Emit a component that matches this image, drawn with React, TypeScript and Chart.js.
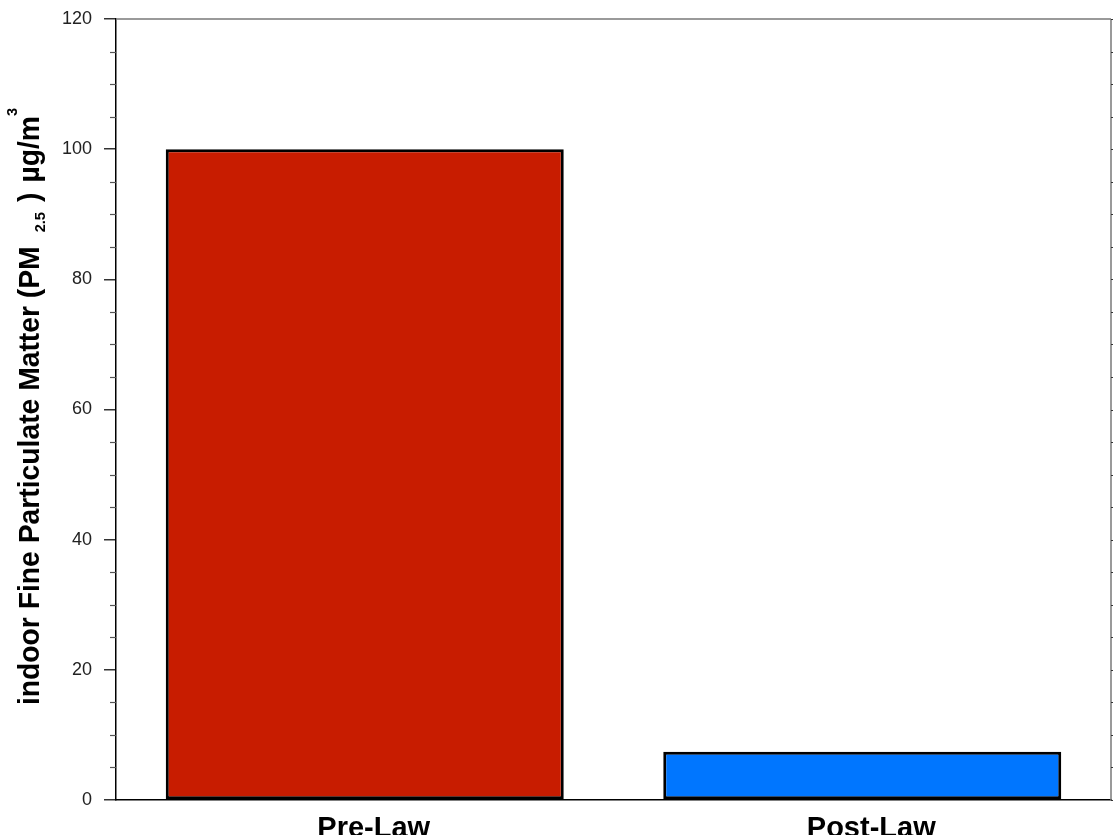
import React, { useEffect, useRef } from "react";
import { Chart, registerables } from "chart.js";

Chart.register(...registerables);

// ---- data ----
const categories: string[] = ["Pre-Law", "Post-Law"];
const pmValues: number[] = [100, 7.4];
const barColors: string[] = ["#C81C00", "#0076FF"];
const yMin = 0;
const yMax = 120;
const yMajorStep = 20;
const yMinorStep = 5;
// y title pieces: main, subscript, main, superscript
const yTitleParts: string[] = ["indoor Fine Particulate Matter (PM", "2.5", ")", "\u00B5g/m", "3"];

const FONT = "'Liberation Sans', Arial, Helvetica, sans-serif";

const decorPlugin = {
  id: "decor",
  afterDraw(chart: any) {
    const ctx = chart.ctx as CanvasRenderingContext2D;
    const { left, right, top, bottom } = chart.chartArea;
    const y = chart.scales.y;
    ctx.save();
    // top and right frame lines
    ctx.strokeStyle = "#7a7a7a";
    ctx.lineWidth = 1.5;
    ctx.beginPath();
    ctx.moveTo(left, top);
    ctx.lineTo(right, top);
    ctx.moveTo(right, top);
    ctx.lineTo(right, bottom);
    ctx.stroke();
    // minor ticks
    for (let v = yMin; v <= yMax; v += yMinorStep) {
      const py = Math.round(y.getPixelForValue(v)) + 0.5;
      if (v % yMajorStep !== 0) {
        ctx.strokeStyle = "#555";
        ctx.lineWidth = 1.2;
        ctx.beginPath();
        ctx.moveTo(left - 6, py);
        ctx.lineTo(left, py);
        ctx.stroke();
      }
      ctx.strokeStyle = "#333";
      ctx.lineWidth = 1.2;
      ctx.beginPath();
      ctx.moveTo(right, py);
      ctx.lineTo(right + 3, py);
      ctx.stroke();
    }
    ctx.restore();

    // y axis title with sub/superscripts
    ctx.save();
    const mainFont = `bold 29px ${FONT}`;
    const smallFont = `bold 15px ${FONT}`;
    const fonts = [mainFont, smallFont, mainFont, mainFont, smallFont];
    const shifts = [0, 6, 0, 0, -22];
    const gapsAfter = [14, 10, 10, 0, 0];
    const squeeze = 0.975;
    let total = 0;
    const widths: number[] = [];
    yTitleParts.forEach((t, i) => {
      ctx.font = fonts[i];
      const w = ctx.measureText(t).width * squeeze;
      widths.push(w);
      total += w + gapsAfter[i];
    });
    const cy = (top + bottom) / 2 - 3;
    const baseX = 39;
    ctx.translate(baseX, cy);
    ctx.rotate(-Math.PI / 2);
    ctx.fillStyle = "#000";
    ctx.textBaseline = "alphabetic";
    ctx.textAlign = "left";
    let x = -total / 2;
    yTitleParts.forEach((t, i) => {
      ctx.font = fonts[i];
      ctx.save();
      ctx.translate(x, shifts[i]);
      ctx.scale(squeeze, 1);
      ctx.fillText(t, 0, 0);
      ctx.restore();
      x += widths[i] + gapsAfter[i];
    });
    ctx.restore();
  },
};

export default function App() {
  const ref = useRef<HTMLCanvasElement | null>(null);
  useEffect(() => {
    if (!ref.current) return;
    const chart = new Chart(ref.current, {
      type: "bar",
      data: {
        labels: categories,
        datasets: [
          {
            data: pmValues,
            backgroundColor: barColors,
            borderColor: "#000",
            borderWidth: 3,
            borderSkipped: false,
            barPercentage: 0.8,
            categoryPercentage: 1,
          },
        ],
      },
      options: {
        responsive: false,
        animation: false,
        layout: { padding: { top: 19, right: 2, left: 0, bottom: 0 } },
        plugins: { legend: { display: false }, tooltip: { enabled: false } },
        scales: {
          x: {
            grid: { display: false },
            border: { display: true, color: "#000", width: 1.5 },
            ticks: {
              color: "#000",
              font: { family: FONT, size: 29, weight: "bold" },
              padding: 4,
              labelOffset: 9,
            },
            afterFit: (s: any) => {
              s.height = 35;
            },
          },
          y: {
            min: yMin,
            max: yMax,
            grid: { drawOnChartArea: false, tickLength: 12, color: "#333", lineWidth: 1.5 },
            border: { display: true, color: "#000", width: 1.5 },
            ticks: {
              stepSize: yMajorStep,
              color: "#222",
              padding: 12,
              font: { family: FONT, size: 18 },
            },
            afterFit: (s: any) => {
              s.width = 116;
              s.paddingTop = 0;
              s.paddingBottom = 0;
            },
          },
        },
      },
      plugins: [decorPlugin],
    });
    return () => chart.destroy();
  }, []);
  return (
    <div style={{ position: "absolute", left: 0, top: 0, width: 1113, height: 835, background: "#fff" }}>
      <canvas ref={ref} width={1113} height={835} style={{ display: "block" }} />
    </div>
  );
}
